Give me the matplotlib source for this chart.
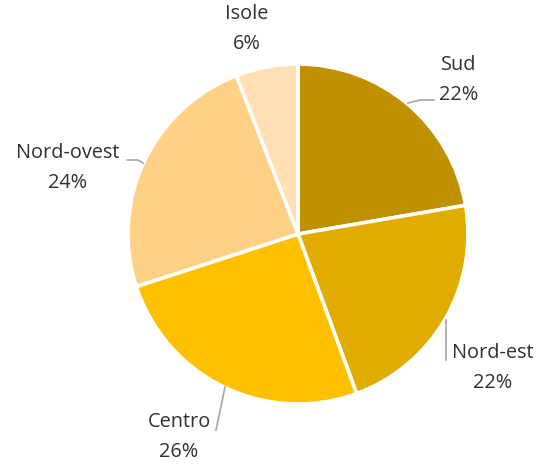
import matplotlib
matplotlib.use("Agg")
import matplotlib.pyplot as plt

categories = ["Sud", "Nord-est", "Centro", "Nord-ovest", "Isole"]
values = [22.3, 22.1, 25.6, 24.1, 5.9]
colors = ["#BF9000", "#E2AB00", "#FFC000", "#FFD186", "#FFDFB3"]

W, H = 542, 466
fig = plt.figure(figsize=(W / 100, H / 100), dpi=100)
ax = fig.add_axes([0, 0, 1, 1])

cx, cy, r = 298, H - 234, 170
ax.pie(values, colors=colors, startangle=90, counterclock=False,
       center=(cx, cy), radius=r, frame=True,
       wedgeprops=dict(edgecolor="white", linewidth=2.6))
ax.set_xlim(0, W)
ax.set_ylim(0, H)
ax.set_aspect("equal")
ax.axis("off")

# label layout (pixel coords from top)
label_pos = {
    "Isole": (247, 14),
    "Sud": (459, 65),
    "Nord-est": (493, 353),
    "Centro": (179, 422),
    "Nord-ovest": (68, 153),
}
leaders = {
    "Sud": [(408, 103), (420, 100), (434, 100)],
    "Nord-est": [(446, 320), (446, 360)],
    "Centro": [(225, 387), (216, 430)],
    "Nord-ovest": [(127, 160), (138, 160), (143, 163)],
}
font = dict(family=["Open Sans", "DejaVu Sans"], fontsize=14.3, color="#303030")
total = sum(values)
for c, v in zip(categories, values):
    x, y = label_pos[c]
    ax.text(x, H - y, c, ha="center", va="center", **font)
    ax.text(x, H - y - 30, f"{round(100 * v / total)}%", ha="center", va="center", **font)
for c, pts in leaders.items():
    xs = [p[0] for p in pts]
    ys = [H - p[1] for p in pts]
    ax.plot(xs, ys, color="#A6A6A6", lw=1.2)

fig.savefig("out.png", dpi=100)
